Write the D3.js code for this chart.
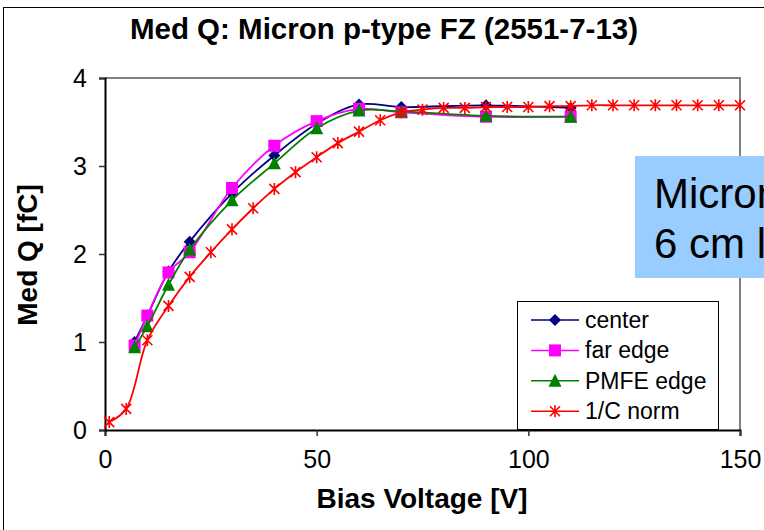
<!DOCTYPE html>
<html>
<head>
<meta charset="utf-8">
<script src="https://cdn.jsdelivr.net/npm/d3@7"></script>
<style>
  body { margin: 0; background: #fff; }
  text { font-family: "Liberation Sans", Arial, sans-serif; }
</style>
</head>
<body>
<script>
// data
var centerV = [7, 10, 15, 20, 30, 40, 50, 60, 70, 90, 110];
var centerQ = [1.00, 1.30, 1.80, 2.14, 2.69, 3.12, 3.48, 3.70, 3.67, 3.69, 3.66];
var farV = [7, 10, 15, 20, 30, 40, 50, 60, 70, 90, 110];
var farQ = [0.96, 1.30, 1.79, 2.02, 2.75, 3.23, 3.51, 3.65, 3.61, 3.56, 3.56];
var pmfeV = [7, 10, 15, 20, 30, 40, 50, 60, 70, 90, 110];
var pmfeQ = [0.94, 1.18, 1.65, 2.05, 2.61, 3.03, 3.43, 3.63, 3.62, 3.57, 3.56];
var normV = [1, 5, 10, 15, 20, 25, 30, 35, 40, 45, 50, 55, 60, 65, 70, 75, 80, 85, 90, 95,
             100, 105, 110, 115, 120, 125, 130, 135, 140, 145, 150];
var normQ = [0.09, 0.24, 1.02, 1.41, 1.74, 2.02, 2.28, 2.52, 2.74, 2.93, 3.10, 3.26, 3.39, 3.52,
             3.61, 3.64, 3.66, 3.66, 3.67, 3.67, 3.67, 3.68, 3.68, 3.69, 3.69, 3.69, 3.69, 3.69,
             3.69, 3.69, 3.69];
var seriesNames = ["center", "far edge", "PMFE edge", "1/C norm"];
var xTicks = [0, 50, 100, 150];
var yTicks = [0, 1, 2, 3, 4];

var W = 764, H = 530;
var svg = d3.select("body").append("svg").attr("width", W).attr("height", H);

// outer chart frame
svg.append("rect").attr("x", 3.5).attr("y", 7.5).attr("width", 800).attr("height", 600)
  .attr("fill", "none").attr("stroke", "#000").attr("stroke-width", 1);

var x = d3.scaleLinear().domain([0, 150]).range([105, 740]);
var y = d3.scaleLinear().domain([0, 4]).range([430, 78]);

// plot area border (top / right in grey)
svg.append("path")
  .attr("d", "M" + x(0) + "," + y(4) + "H" + x(150) + "V" + y(0))
  .attr("fill", "none").attr("stroke", "#808080").attr("stroke-width", 2);

// axes
var xAxis = svg.append("g").attr("transform", "translate(0," + y(0) + ")")
  .call(d3.axisBottom(x).tickValues(xTicks).tickFormat(d3.format("d")).tickSize(6).tickPadding(14));
var yAxis = svg.append("g").attr("transform", "translate(" + x(0) + ",0)")
  .call(d3.axisLeft(y).tickValues(yTicks).tickFormat(d3.format("d")).tickSize(6).tickPadding(12));
[xAxis, yAxis].forEach(function(g) {
  g.select(".domain").attr("stroke", "#000").attr("stroke-width", 2);
  g.selectAll(".tick line").attr("stroke", "#333").attr("stroke-width", 1.5);
  g.selectAll(".tick text").attr("font-size", 25).attr("fill", "#000")
    .attr("font-family", "Liberation Sans, Arial, sans-serif");
});

// text box
svg.append("rect").attr("x", 635).attr("y", 156).attr("width", 200).attr("height", 122)
  .attr("fill", "#99CCFF");
svg.append("text").attr("x", 654).attr("y", 208).attr("font-size", 42).text("Micron");
svg.append("text").attr("x", 654).attr("y", 258).attr("font-size", 42).text("6 cm long");

var line = d3.line().curve(d3.curveCatmullRom.alpha(0.5))
  .x(function(d) { return x(d[0]); }).y(function(d) { return y(d[1]); });

var series = [
  { v: centerV, q: centerQ, color: "#000080", sym: "diamond" },
  { v: farV, q: farQ, color: "#FF00FF", sym: "square" },
  { v: pmfeV, q: pmfeQ, color: "#008000", sym: "triangle" },
  { v: normV, q: normQ, color: "#FF0000", sym: "star" }
];

function marker(g, sym, color) {
  if (sym === "diamond") {
    g.append("path").attr("d", "M0,-6L6,0L0,6L-6,0Z").attr("fill", color);
  } else if (sym === "square") {
    g.append("rect").attr("x", -6).attr("y", -6).attr("width", 12).attr("height", 12).attr("fill", color);
  } else if (sym === "triangle") {
    g.append("path").attr("d", "M0,-7L6.5,6L-6.5,6Z").attr("fill", color);
  } else {
    g.append("path").attr("d", "M-5,-5L5,5M-5,5L5,-5M0,-6V6")
      .attr("stroke", color).attr("stroke-width", 1.6).attr("fill", "none");
  }
}

series.forEach(function(s) {
  var pts = s.v.map(function(v, i) { return [v, s.q[i]]; });
  svg.append("path").datum(pts).attr("d", line)
    .attr("fill", "none").attr("stroke", s.color).attr("stroke-width", 1.8);
  pts.forEach(function(p) {
    marker(svg.append("g").attr("transform", "translate(" + x(p[0]) + "," + y(p[1]) + ")"), s.sym, s.color);
  });
});

// legend
var lg = svg.append("g");
lg.append("rect").attr("x", 517.5).attr("y", 301.5).attr("width", 201).attr("height", 128)
  .attr("fill", "#fff").attr("stroke", "#000").attr("stroke-width", 1);
series.forEach(function(s, i) {
  var yy = 320 + i * 30.4;
  lg.append("line").attr("x1", 531).attr("x2", 579).attr("y1", yy).attr("y2", yy)
    .attr("stroke", s.color).attr("stroke-width", 1.5);
  marker(lg.append("g").attr("transform", "translate(555," + yy + ")"), s.sym, s.color);
  lg.append("text").attr("x", 585).attr("y", yy + 8).attr("font-size", 23).text(seriesNames[i]);
});

// titles
svg.append("text").attr("x", 384).attr("y", 39).attr("text-anchor", "middle")
  .attr("font-size", 29.5).attr("font-weight", "bold").text("Med Q: Micron p-type FZ (2551-7-13)");
svg.append("text").attr("x", 422).attr("y", 508).attr("text-anchor", "middle")
  .attr("font-size", 28).attr("font-weight", "bold").text("Bias Voltage [V]");
svg.append("text").attr("transform", "translate(37,255) rotate(-90)").attr("text-anchor", "middle")
  .attr("font-size", 28).attr("font-weight", "bold").text("Med Q [fC]");
</script>
</body>
</html>
